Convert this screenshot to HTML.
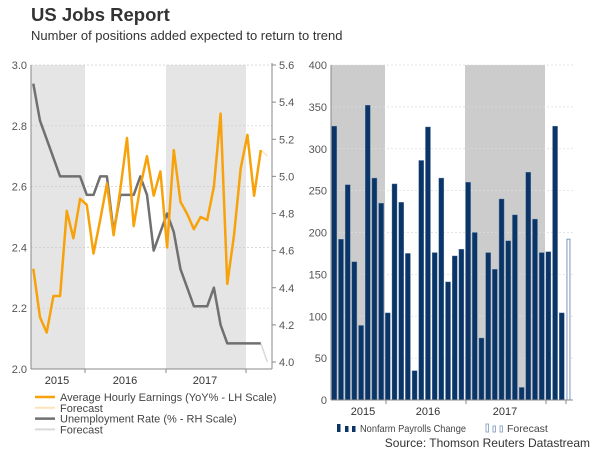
<!DOCTYPE html>
<html><head><meta charset="utf-8"><style>
body{margin:0;background:#fff;}
svg{display:block;font-family:"Liberation Sans",sans-serif;}
</style></head><body>
<svg id="c" width="600" height="450" viewBox="0 0 600 450">
<text x="31" y="21" font-size="18.5" font-weight="bold" fill="#333">US Jobs Report</text>
<text x="31" y="40" font-size="13" fill="#333">Number of positions added expected to return to trend</text>
<g id="left"></g>
<g id="right"></g>
<text x="590" y="447" font-size="12" fill="#333" text-anchor="end">Source: Thomson Reuters Datastream</text>
</svg>
<script>
// data
const earnings = [2.33,2.17,2.12,2.24,2.24,2.52,2.43,2.56,2.54,2.38,2.49,2.61,2.44,2.59,2.76,2.47,2.60,2.70,2.57,2.65,2.40,2.72,2.55,2.51,2.46,2.50,2.49,2.60,2.84,2.28,2.44,2.66,2.77,2.57,2.72];
const earningsForecast = 2.70;
const unemployment = [5.5,5.3,5.2,5.1,5.0,5.0,5.0,5.0,4.9,4.9,5.0,5.0,4.7,4.9,4.9,4.9,5.0,4.9,4.6,4.7,4.8,4.7,4.5,4.4,4.3,4.3,4.3,4.4,4.2,4.1,4.1,4.1,4.1,4.1,4.1];
const unemploymentForecast = 4.0;
const payrolls = [327,192,257,165,89,352,265,235,104,258,236,175,35,286,326,176,265,141,172,180,260,200,74,176,156,240,190,221,15,272,216,176,177,327,104];
const payrollsForecast = 192;
const leftTicks = ["2.0","2.2","2.4","2.6","2.8","3.0"];
const rightTicks = ["4.0","4.2","4.4","4.6","4.8","5.0","5.2","5.4","5.6"];
const barTicks = ["0","50","100","150","200","250","300","350","400"];
const years = ["2015","2016","2017"];

const NS="http://www.w3.org/2000/svg";
function mk(p,tag,a,txt){const e=document.createElementNS(NS,tag);for(const k in a)e.setAttribute(k,a[k]);if(txt!==undefined)e.textContent=txt;p.appendChild(e);return e;}
const L=document.getElementById('left'), R=document.getElementById('right');

// left chart
const lx0=31,lx1=272,ly0=369,ly1=65;
const mx=i=>33.3+i*6.69;
const yL=v=>ly0-(v-2.0)/(1.0)*(ly0-ly1);
const yR=v=>362-(v-4.0)/1.6*(362-ly1);
let r=mk(L,'rect',{x:lx0,y:ly1,width:85-lx0,height:ly0-ly1,fill:'#e5e5e5'});


r=mk(L,'rect',{x:166,y:ly1,width:80,height:ly0-ly1,fill:'#e5e5e5'});


leftTicks.forEach(t=>{const y=yL(+t);
 if(+t>2.0){const g=mk(L,'line',{x1:lx0,x2:lx1,y1:y,y2:y,stroke:'#ccc','stroke-dasharray':'2,2','stroke-width':0.7});
 
 }
 const e=mk(L,'text',{x:lx0-4,y:y+4,'font-size':11,fill:'#555','text-anchor':'end'},t);
 
 
});
rightTicks.forEach(t=>{const y=yR(+t);
 mk(L,'line',{x1:lx1,x2:lx1+4,y1:y,y2:y,stroke:'#888'});
 const e=mk(L,'text',{x:lx1+7,y:y+4,'font-size':11,fill:'#555'},t);
 
 
});
mk(L,'line',{x1:lx0,x2:lx0,y1:ly1,y2:ly0,stroke:'#888'});
mk(L,'line',{x1:lx1,x2:lx1,y1:ly1-2,y2:ly0,stroke:'#888'});
mk(L,'line',{x1:lx0,x2:lx1,y1:ly0,y2:ly0,stroke:'#888'});
[85,166,246].forEach(x=>mk(L,'line',{x1:x,x2:x,y1:ly0,y2:ly0+4,stroke:'#888'}));
[57,125,205].forEach((x,i)=>{const e=mk(L,'text',{x:x,y:384,'font-size':11,fill:'#333','text-anchor':'middle'},years[i]);
 
 });
function line(p,vals,fy,col,w,name,start){const pts=vals.map((v,i)=>mx(i+start).toFixed(1)+','+fy(v).toFixed(1)).join(' ');
 const e=mk(p,'polyline',{points:pts,fill:'none',stroke:col,'stroke-width':w,'stroke-linejoin':'round'});
 
 }
const n=earnings.length;
line(L,[unemployment[n-1],unemploymentForecast],yR,'#d9d9d9',1.5,'unemployment-forecast-line',n-1);
line(L,unemployment,yR,'#707070',2.5,'unemployment-line',0);
line(L,[earnings[n-1],earningsForecast],yL,'#fde3b8',1.5,'earnings-forecast-line',n-1);
line(L,earnings,yL,'#f7a20a',2.5,'earnings-line',0);
const leg=[['#f7a20a','Average Hourly Earnings (YoY% - LH Scale)',2.5],['#fde3b8','Forecast',2],['#707070','Unemployment Rate (% - RH Scale)',2.5],['#d9d9d9','Forecast',2]];
leg.forEach((l,i)=>{const y=397+i*10.8;
 const s=mk(L,'line',{x1:35,x2:55,y1:y,y2:y,stroke:l[0],'stroke-width':l[2]});
 
 
 const e=mk(L,'text',{x:60,y:y+4,'font-size':11,fill:'#444'},l[1]);
 
 });

// right chart
const rx0=331,rx1=573,ry0=400,ry1=65;
const bx=i=>334.3+i*6.69;
const yB=v=>ry0-v/400*(ry0-ry1);
r=mk(R,'rect',{x:rx0,y:ry1,width:385-rx0,height:ry0-ry1,fill:'#cccccc'});


r=mk(R,'rect',{x:465,y:ry1,width:80,height:ry0-ry1,fill:'#cccccc'});


barTicks.forEach(t=>{const y=yB(+t);
 if(+t>0){const g=mk(R,'line',{x1:rx0,x2:rx1,y1:y,y2:y,stroke:'#ddd','stroke-dasharray':'2,2','stroke-width':0.7});
 
 }
 const e=mk(R,'text',{x:rx0-4,y:y+4,'font-size':11,fill:'#555','text-anchor':'end'},t);
 
 
});
payrolls.forEach((v,i)=>{const b=mk(R,'rect',{x:bx(i)-2.5,y:yB(v),width:5,height:ry0-yB(v),fill:'#0b3566',stroke:'#5a7fa8','stroke-width':0.4});
 
 });
const fb=mk(R,'rect',{x:bx(payrolls.length)-1.5,y:yB(payrollsForecast),width:3,height:ry0-yB(payrollsForecast),fill:'#fff',stroke:'#7d98bd','stroke-width':1});


mk(R,'line',{x1:rx0,x2:rx0,y1:ry1,y2:ry0,stroke:'#888'});
mk(R,'line',{x1:rx0,x2:rx1,y1:ry0,y2:ry0,stroke:'#888'});
[386,466,546,566].forEach(x=>mk(R,'line',{x1:x,x2:x,y1:ry0,y2:ry0+4,stroke:'#888'}));
[363,428,505].forEach((x,i)=>{const e=mk(R,'text',{x:x,y:415,'font-size':11,fill:'#333','text-anchor':'middle'},years[i]);
 
 });
[[337,8],[345,6],[352,6]].forEach(a=>mk(R,'rect',{x:a[0],y:432-a[1],width:3.5,height:a[1],fill:'#0b3566'}));
let e=mk(R,'text',{x:360,y:432,'font-size':10.5,fill:'#444',textLength:106,lengthAdjust:'spacingAndGlyphs'},'Nonfarm Payrolls Change');


[[486,8],[493,6],[500,6]].forEach(a=>mk(R,'rect',{x:a[0],y:432-a[1],width:2.5,height:a[1],fill:'#fff',stroke:'#7d98bd','stroke-width':0.8}));
e=mk(R,'text',{x:507,y:432,'font-size':10.5,fill:'#444'},'Forecast');


</script>
</body></html>
